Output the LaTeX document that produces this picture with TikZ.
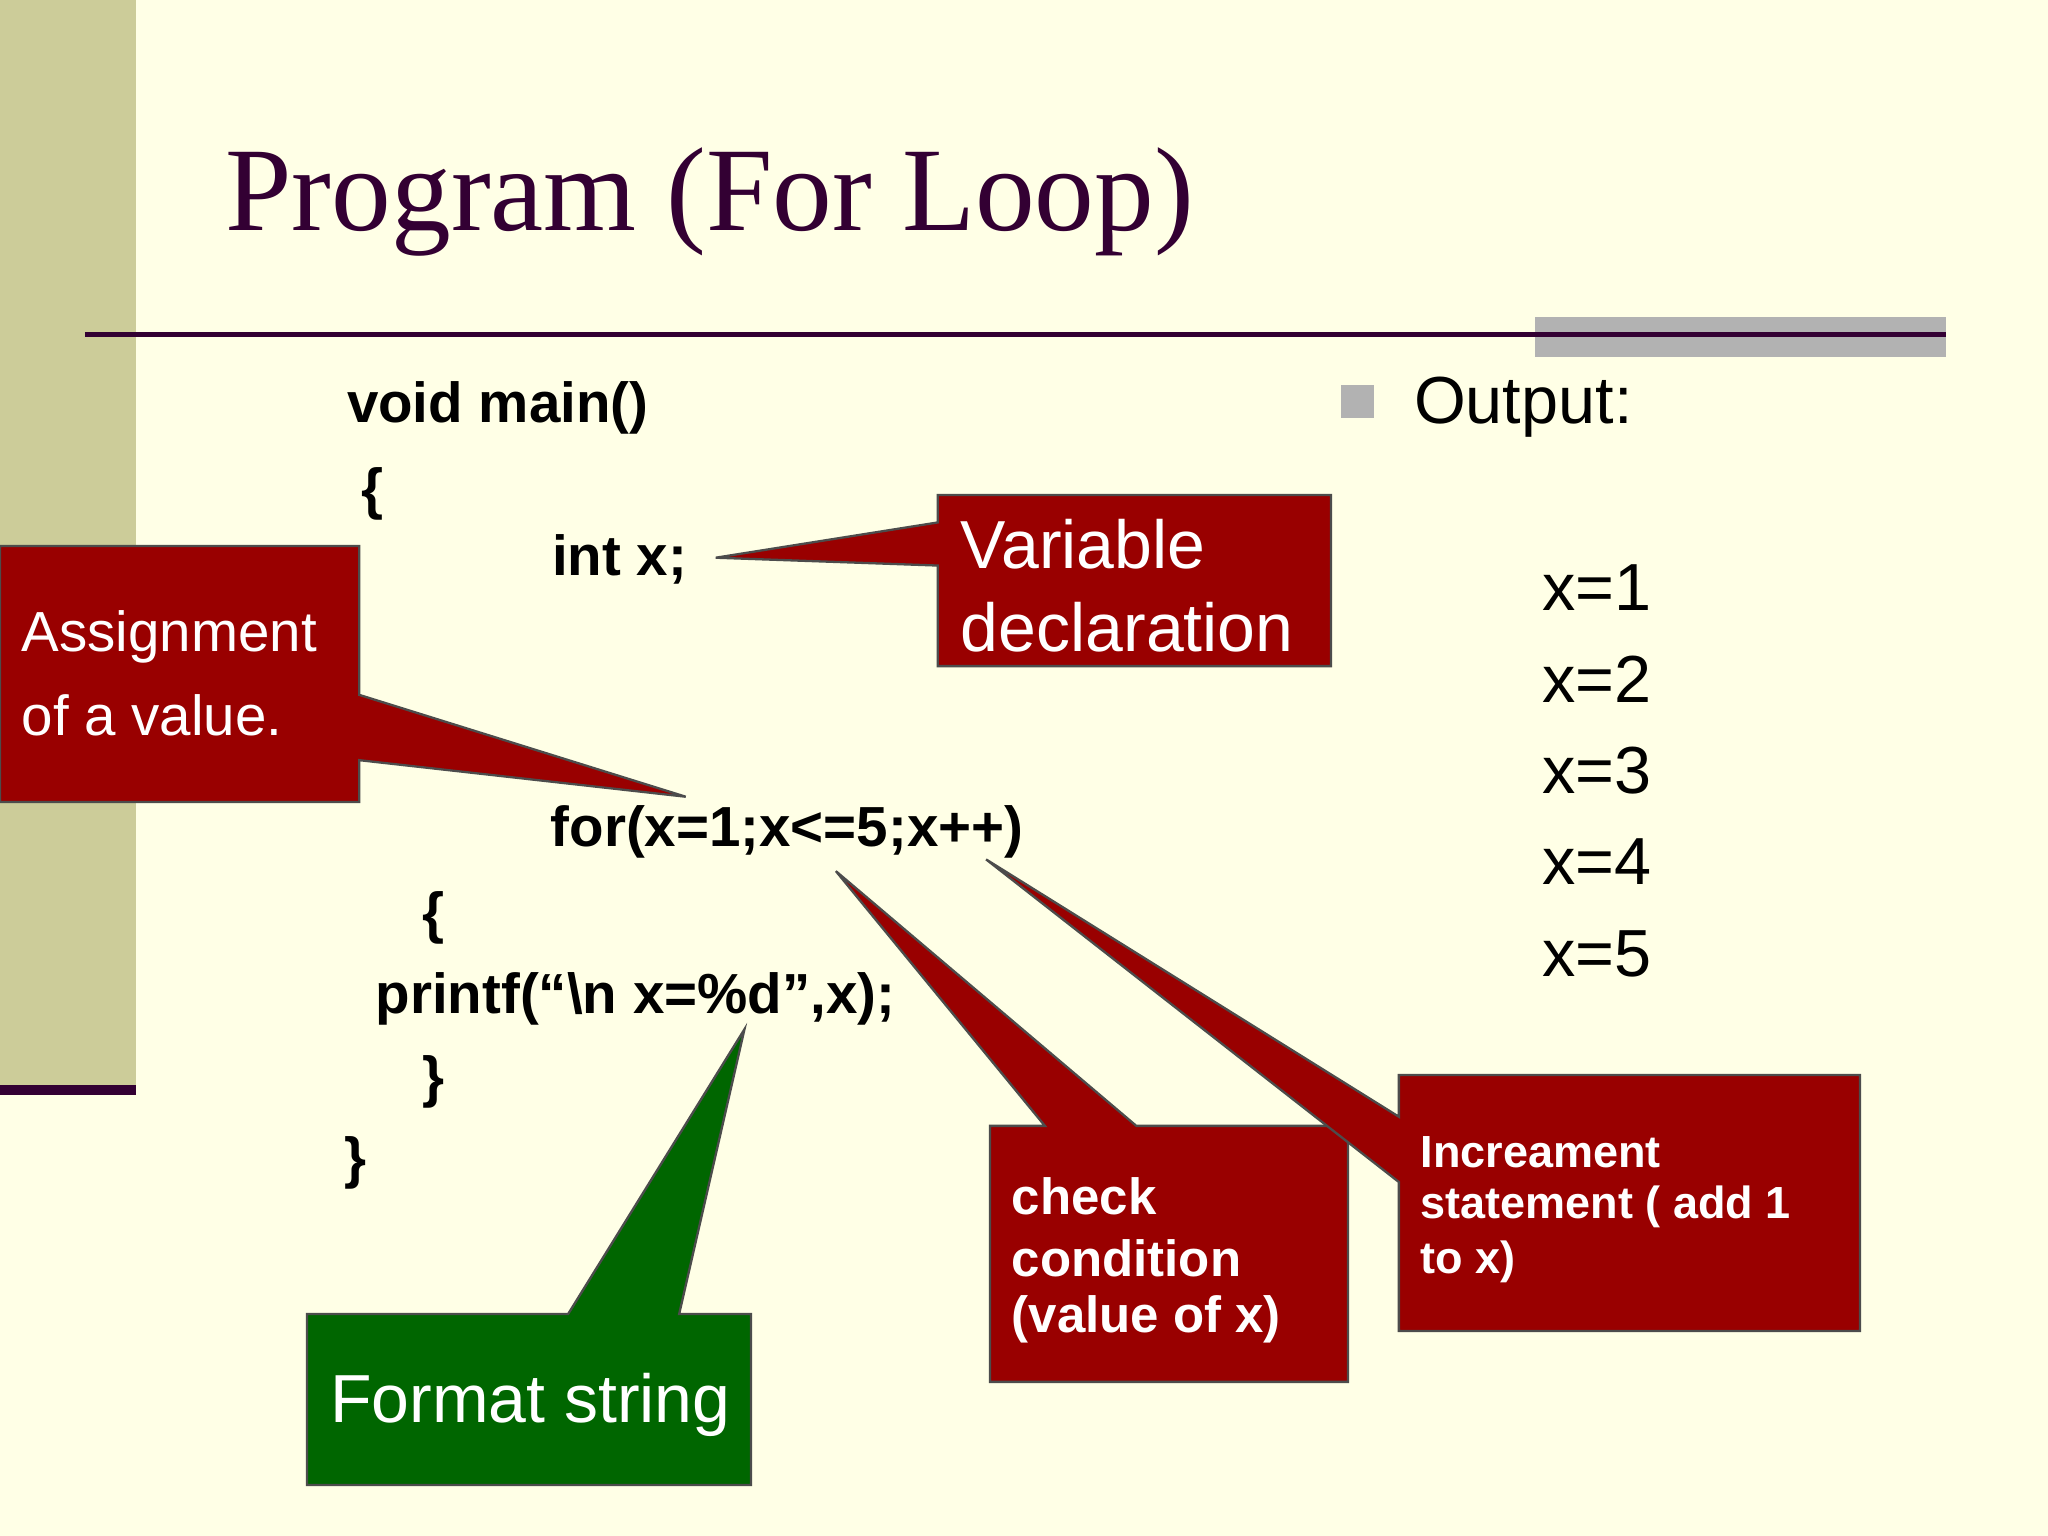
\documentclass[tikz,border=0pt]{standalone}
\usepackage{fontspec}
\setmainfont{Liberation Sans}
\newfontfamily\titlefont{Liberation Serif}
\definecolor{bgc}{HTML}{FFFFE6}
\definecolor{olive}{HTML}{CCCC99}
\definecolor{dpurp}{HTML}{330033}
\definecolor{cred}{HTML}{990000}
\definecolor{cgreen}{HTML}{006600}
\begin{document}
\begin{tikzpicture}[x=0.01cm,y=-0.01cm,
  code/.style={anchor=west,inner sep=0,font=\bfseries\fontsize{12.3}{14}\selectfont},
  outp/.style={anchor=west,inner sep=0,font=\fontsize{14.5}{16}\selectfont},
  callout/.style={draw=black!70,line width=0.5pt},
  ctext/.style={anchor=west,inner sep=0,text=white}]
\useasboundingbox (0,0) rectangle (1568,1176);
\fill[bgc] (0,0) rectangle (1568,1176);
\fill[olive] (0,0) rectangle (104,835);
\fill[dpurp] (0,831) rectangle (104,838);
\fill[black!30] (1175,243) rectangle (1490,273);
\draw[dpurp,line width=1.2pt] (65,256) -- (1490,256);
\node[anchor=west,inner sep=0,text=dpurp,font=\titlefont\fontsize{26}{30}\selectfont] (title) at (172,155) {Program (For Loop)};
% code
\node[code] (l1) at (265,312) {void main()};
\node[code] (l2) at (276,378) {\{};
\node[code] (l3) at (422,428) {int x;};
\node[code] (l4) at (421,637) {for(x=1;x<=5;x++)};
\node[code] (l5) at (323,703) {\{};
\node[code] (l6) at (287,765) {printf(“\textbackslash n x=\%d”,x);};
\node[code] (l7) at (323,828) {\}};
\node[code] (l8) at (263,890) {\}};
% output
\fill[black!30] (1027,295) rectangle (1052,320);
\node[outp] (out) at (1082,312) {Output:};
\node[outp] (o1) at (1180,450) {x=1};
\node[outp] (o2) at (1180,520) {x=2};
\node[outp] (o3) at (1180,590) {x=3};
\node[outp] (o4) at (1180,660) {x=4};
\node[outp] (o5) at (1180,730) {x=5};
% callouts
\filldraw[callout,fill=cred] (718,379)--(1019,379)--(1019,510)--(718,510)--(718,433)--(548,427)--(718,400)--cycle;
\filldraw[callout,fill=cred] (0,418)--(275,418)--(275,532)--(525,610)--(275,582)--(275,614)--(0,614)--cycle;
\filldraw[callout,fill=cred] (758,862)--(800,862)--(640,667)--(870,862)--(1032,862)--(1032,1058)--(758,1058)--cycle;
\filldraw[callout,fill=cred] (1071,823)--(1424,823)--(1424,1019)--(1071,1019)--(1071,905)--(755,658)--(1071,855)--cycle;
\filldraw[callout,fill=cgreen] (235,1006)--(435,1006)--(570,788)--(520,1006)--(575,1006)--(575,1137)--(235,1137)--cycle;
\begin{scope}[every node/.append style={ctext}]
\node[font=\fontsize{14.8}{17}\selectfont] (v1) at (735,417) {Variable};
\node[font=\fontsize{14.8}{17}\selectfont] (v2) at (735,480) {declaration};
\node[font=\fontsize{12.3}{14}\selectfont] (a1) at (16,488) {Assignment};
\node[font=\fontsize{12.3}{14}\selectfont] (a2) at (16,548) {of a value.};
\node[font=\bfseries\fontsize{11.1}{13}\selectfont] (c1) at (774,916) {check};
\node[font=\bfseries\fontsize{11.1}{13}\selectfont] (c2) at (774,963) {condition};
\node[font=\bfseries\fontsize{11.1}{13}\selectfont] (c3) at (774,1010) {(value of x)};
\node[font=\bfseries\fontsize{9.8}{12}\selectfont] (i1) at (1087,882) {Increament};
\node[font=\bfseries\fontsize{9.8}{12}\selectfont] (i2) at (1087,924) {statement ( add 1};
\node[font=\bfseries\fontsize{9.8}{12}\selectfont] (i3) at (1087,966) {to x)};
\node[font=\fontsize{14.8}{17}\selectfont] (f1) at (252,1076) {Format string};
\end{scope}
\end{tikzpicture}
\end{document}
